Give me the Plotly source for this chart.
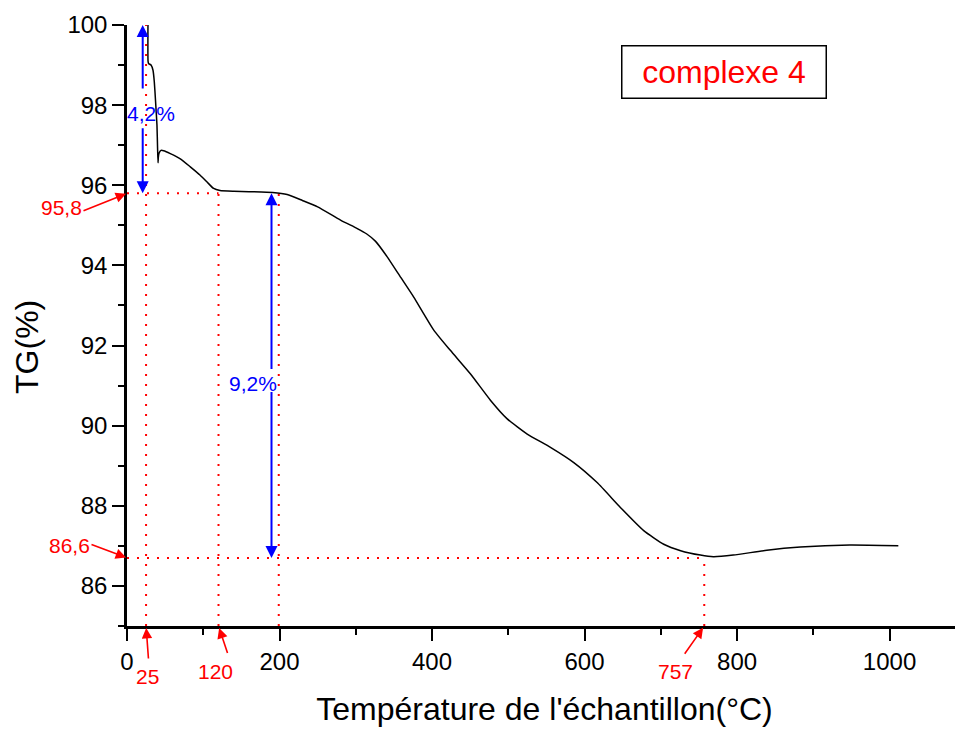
import plotly.graph_objects as go

# ---- data ----
temp = [27.5, 27.6, 28.3, 31.5, 34.1, 35.8, 37.5, 39.3, 40.1, 40.7, 41.1, 42.0, 44.6, 48.0,
        56.8, 69.9, 83.0, 96.0, 105.0, 113.6, 122.0, 140.0, 160.0, 191.0, 210.0, 230.0,
        250.0, 280.0, 302.0, 314.0, 326.0, 341.0, 359.0, 376.0, 402.5, 424.0, 450.5, 476.8,
        498.6, 524.8, 555.3, 585.9, 616.5, 647.0, 677.6, 703.8, 726.0, 752.0, 769.0,
        795.0, 839.0, 883.0, 948.0, 1011.5]
tg = [100.0, 99.1, 99.04, 99.0, 98.87, 98.58, 98.08, 97.5, 96.92, 96.56, 96.7, 96.8, 96.87,
      96.86, 96.79, 96.66, 96.46, 96.25, 96.08, 95.92, 95.87, 95.85, 95.84, 95.82, 95.77,
      95.62, 95.46, 95.13, 94.92, 94.79, 94.6, 94.22, 93.7, 93.21, 92.38, 91.88, 91.29, 90.63,
      90.17, 89.79, 89.46, 89.08, 88.58, 87.96, 87.38, 87.04, 86.88, 86.77, 86.73, 86.77,
      86.89, 86.97, 87.02, 87.0]

x_ticks = [0, 200, 400, 600, 800, 1000]
y_ticks = [86, 88, 90, 92, 94, 96, 98, 100]

# red dotted guide lines
vlines_x = [25, 120, 199, 757]
vlines_top = [100, 95.8, 95.8, 86.7]
hlines_y = [95.8, 86.7]
hlines_end = [120, 757]

# red marker labels
xmark_vals = [25, 120, 757]
xmark_labels = ["25", "120", "757"]
ymark_vals = [95.8, 86.7]
ymark_labels = ["95,8", "86,6"]

# blue mass-loss arrows
loss_x = [20.6, 189.5]
loss_top = [100.0, 95.8]
loss_bottom = [95.8, 86.7]
loss_gap = [(98.375, 97.46), (91.375, 90.875)]
loss_labels = ["4,2%", "9,2%"]
loss_label_pos = [(31.2, 97.8), (165.0, 91.06)]

legend_text = "complexe 4"

FONT = "Liberation Sans, Arial, sans-serif"
RED = "#FF0000"
BLUE = "#0000FF"

fig = go.Figure()
fig.add_trace(go.Scatter(x=temp, y=tg, mode="lines",
                         line=dict(color="black", width=1.5, shape="spline", smoothing=0.5),
                         showlegend=False))

shapes = []
for xv, top in zip(vlines_x, vlines_top):
    shapes.append(dict(type="line", xref="x", yref="y", x0=xv, x1=xv, y0=85, y1=top,
                       line=dict(color=RED, width=2, dash="2px,8px")))
for yv, xe in zip(hlines_y, hlines_end):
    shapes.append(dict(type="line", xref="x", yref="y", x0=0, x1=xe, y0=yv, y1=yv,
                       line=dict(color=RED, width=2, dash="2px,8px")))

ann = []
# blue double arrows (split around the labels)
for xv, top, bot, (g_hi, g_lo), lab, (lx, ly) in zip(loss_x, loss_top, loss_bottom,
                                                      loss_gap, loss_labels, loss_label_pos):
    ann.append(dict(x=xv, y=top, ax=xv, ay=g_hi, xref="x", yref="y", axref="x", ayref="y",
                    text="", showarrow=True, arrowhead=2, arrowsize=1.2, arrowwidth=2,
                    arrowcolor=BLUE, standoff=0))
    ann.append(dict(x=xv, y=bot, ax=xv, ay=g_lo, xref="x", yref="y", axref="x", ayref="y",
                    text="", showarrow=True, arrowhead=2, arrowsize=1.2, arrowwidth=2,
                    arrowcolor=BLUE, standoff=0))
    ann.append(dict(x=lx, y=ly, xref="x", yref="y", text=lab, showarrow=False,
                    font=dict(family=FONT, size=21, color=BLUE)))

# red x markers
xm_shift = {"25": (1, -50, 2.5, 34), "120": (-3, -45, 9.5, 28.6), "757": (-28.5, -45, -20.6, 29.3)}
for xv, lab in zip(xmark_vals, xmark_labels):
    xs, ys, axp, ayp = xm_shift[lab]
    ann.append(dict(x=xv, y=85, xref="x", yref="y", text="", showarrow=True,
                    ax=axp, ay=ayp, arrowhead=2, arrowsize=1.3, arrowwidth=1.6,
                    arrowcolor=RED, standoff=2))
    ann.append(dict(x=xv, y=85, xref="x", yref="y", text=lab, showarrow=False,
                    xshift=xs, yshift=ys, font=dict(family=FONT, size=21, color=RED)))

ym_shift = {"95,8": (-65.7, -14.3, -45, 18), "86,6": (-58, 12, -37, -14)}
for yv, lab in zip(ymark_vals, ymark_labels):
    xs, ys, axp, ayp = ym_shift[lab]
    ann.append(dict(x=0, y=yv, xref="x", yref="y", text="", showarrow=True,
                    ax=axp, ay=ayp, arrowhead=2, arrowsize=1.3, arrowwidth=1.6,
                    arrowcolor=RED, standoff=1))
    ann.append(dict(x=0, y=yv, xref="x", yref="y", text=lab, showarrow=False,
                    xshift=xs, yshift=ys, font=dict(family=FONT, size=21, color=RED)))

# legend box
ann.append(dict(x=0.715, y=0.922, xref="paper", yref="paper", xanchor="center", yanchor="middle",
                text=legend_text, showarrow=False, width=203, height=51, borderpad=0,
                bordercolor="black", borderwidth=1.5, bgcolor="white",
                font=dict(family=FONT, size=32, color=RED)))

# y axis title
ann.append(dict(x=-0.12, y=0.464, xref="paper", yref="paper", xanchor="center", yanchor="middle",
                text="TG(%)", textangle=-90, showarrow=False,
                font=dict(family=FONT, size=32, color="black")))

fig.update_layout(
    width=955, height=723,
    margin=dict(l=119, r=1, t=17, b=105, autoexpand=False),
    paper_bgcolor="white", plot_bgcolor="white",
    font=dict(family=FONT, color="black"),
    shapes=shapes, annotations=ann,
    xaxis=dict(range=[0, 1095], tickvals=x_ticks, ticks="outside", ticklen=12, tickwidth=2,
               tickcolor="black", showline=True, linewidth=2.5, linecolor="black",
               showgrid=False, zeroline=False, tickfont=dict(size=24, family=FONT),
               automargin=False,
               minor=dict(dtick=100, ticks="outside", ticklen=6, tickwidth=2, tickcolor="black"),
               title=dict(text="Température de l'échantillon(°C)",
                          font=dict(size=32, family=FONT), standoff=25)),
    yaxis=dict(range=[85, 100], tickvals=y_ticks, ticks="outside", ticklen=12, tickwidth=2,
               tickcolor="black", showline=True, linewidth=2.5, linecolor="black",
               showgrid=False, zeroline=False, tickfont=dict(size=24, family=FONT),
               automargin=False,
               minor=dict(dtick=1, ticks="outside", ticklen=6, tickwidth=2, tickcolor="black")),
)

fig.write_html("out.html")
